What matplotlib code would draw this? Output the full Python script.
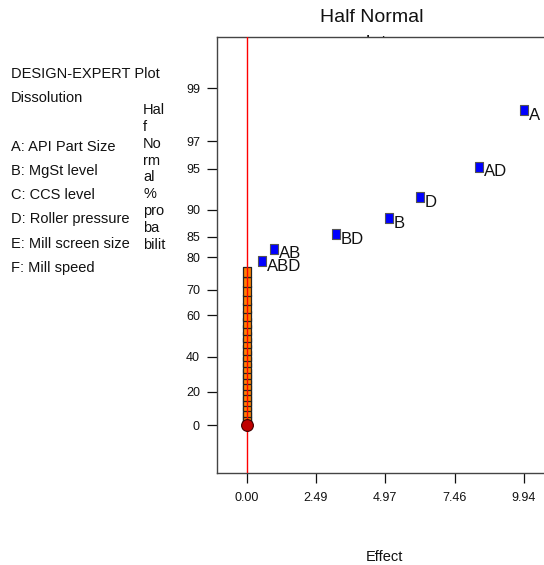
from statistics import NormalDist
import numpy as np
import matplotlib
matplotlib.use("Agg")
import matplotlib.pyplot as plt

plt.rcParams['font.family'] = ['Liberation Sans', 'DejaVu Sans']

# significant effects (blue squares)
terms = ["A", "AD", "D", "B", "BD", "AB", "ABD"]
effects = [9.94, 8.35, 6.22, 5.11, 3.20, 0.97, 0.56]
probs = [98.4, 95.2, 91.9, 88.7, 85.5, 82.3, 79.0]

# error estimates stacked at zero (orange squares)
err_effects = [0.0] * 24
err_probs = [1.6, 4.8, 8.1, 11.3, 14.5, 17.7, 21.0, 24.2, 27.4, 30.6, 33.9, 37.1,
             40.3, 43.5, 46.8, 50.0, 53.2, 56.5, 59.7, 62.9, 66.1, 69.4, 72.6, 75.8]

xticks = [0.0, 2.485, 4.97, 7.455, 9.94]
xticklabels = ["0.00", "2.49", "4.97", "7.46", "9.94"]
yticks = [0, 20, 40, 60, 70, 80, 85, 90, 95, 97, 99]

legend_lines = ["DESIGN-EXPERT Plot", "Dissolution", "",
                "A: API Part Size", "B: MgSt level", "C: CCS level",
                "D: Roller pressure", "E: Mill screen size", "F: Mill speed"]

nd = NormalDist()
_inv = np.vectorize(nd.inv_cdf, otypes=[float])
_cdf = np.vectorize(nd.cdf, otypes=[float])


def fwd(p):
    q = np.clip(0.5 + np.asarray(p, dtype=float) / 200.0, 1e-9, 1 - 1e-9)
    return _inv(q)


def inv(z):
    return (2 * _cdf(np.asarray(z, dtype=float)) - 1) * 100.0


W, H = 544, 565
fig = plt.figure(figsize=(W / 100, H / 100), dpi=100)
ax = fig.add_axes([217.3 / W, 1 - 473 / H, (560 - 217.3) / W, (473 - 37) / H])

ax.set_yscale('function', functions=(fwd, inv))
ax.set_xlim(-1.055, 11.24)
ax.set_ylim(-28.6, 99.7)

ax.axvline(0, color='#ff0000', lw=1, zorder=3)

rect = [(-0.75, -1), (0.75, -1), (0.75, 1), (-0.75, 1), (-0.75, -1)]
ax.plot(err_effects, err_probs, ls='none', marker=rect, ms=7.2,
        mfc='#ff8000', mec='#222222', mew=0.9, zorder=2)
ax.plot([0.0], [0.0], ls='none', marker='o', ms=8.5, mfc='#c00000',
        mec='#400000', mew=0.8, zorder=4)
ax.plot(effects, probs, ls='none', marker=rect, ms=7.2,
        mfc='#0000ff', mec='#555555', mew=0.8, zorder=4)
for t, e, p in zip(terms, effects, probs):
    ax.annotate(t, (e, p), xytext=(3.5, 1.5), textcoords='offset points',
                ha='left', va='top', fontsize=12, color='#111111')

ax.set_xticks(xticks)
ax.set_xticklabels(xticklabels)
ax.set_yticks(yticks)
ax.set_yticklabels([str(v) for v in yticks])
ax.minorticks_off()
ax.tick_params(direction='out', length=7.5, width=0.9, labelsize=9,
               pad=5, colors='#111111')
ax.tick_params(axis='x', pad=6.5)
for s in ['left', 'bottom', 'top']:
    ax.spines[s].set_color('#444444')
    ax.spines[s].set_linewidth(1)
ax.spines['right'].set_visible(False)

fig.text(371.7 / W, 1 - 9.5 / H, "Half Normal\nplot", ha='center', va='top',
         fontsize=14, linespacing=1.62, color='#111111', zorder=-1)
fig.text(384.3 / W, 1 - 557 / H, "Effect", ha='center', va='center',
         fontsize=10.5, color='#111111')
fig.text(11 / W, 1 - 67 / H, "\n".join(legend_lines), ha='left', va='top',
         fontsize=10.5, linespacing=1.93, color='#111111')
fig.text(143 / W, 1 - 103 / H, "Hal\nf\nNo\nrm\nal\n%\npro\nba\nbilit",
         ha='left', va='top', fontsize=10.5, linespacing=1.26, color='#111111')

fig.savefig("out.png", dpi=100)
